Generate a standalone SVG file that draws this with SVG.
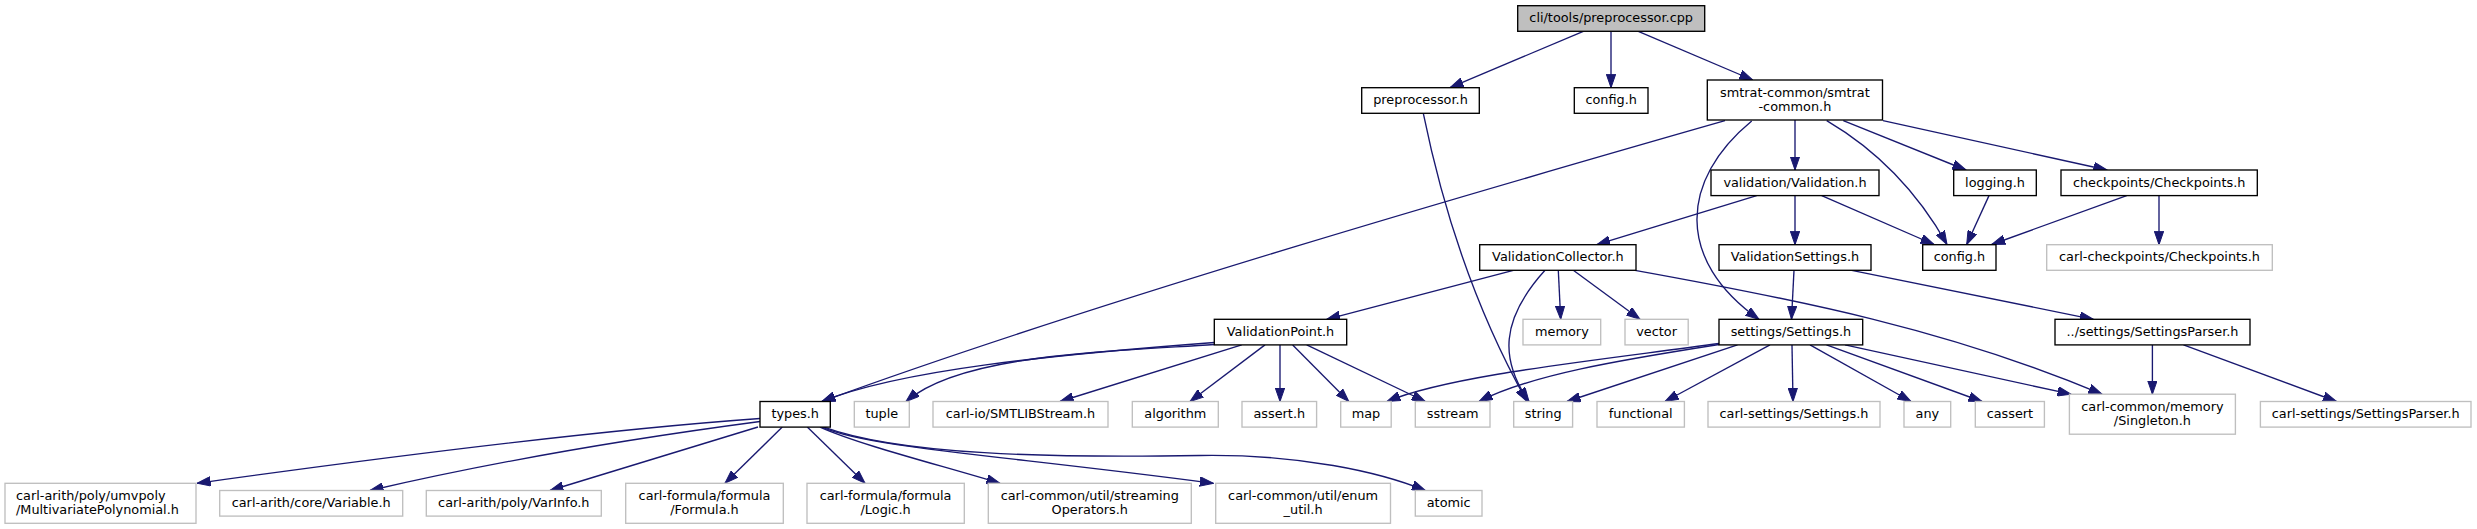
<svg xmlns="http://www.w3.org/2000/svg" width="2477" height="529" viewBox="0 0 2477 529">
<style>
.nd rect{fill:#ffffff;stroke:#000000;stroke-width:1.35}
.ext rect{fill:#ffffff;stroke:#bfbfbf;stroke-width:1.35}
.rt rect{fill:#bfbfbf;stroke:#000000;stroke-width:1.35}
text{font-family:"DejaVu Sans","Liberation Sans",sans-serif;font-size:12.85px;fill:#000000;text-anchor:middle}
text.l{text-anchor:start}
#edges path{fill:none;stroke:#191970;stroke-width:1.35;marker-end:url(#ah)}
</style>
<defs>
<marker id="ah" viewBox="0 0 14 10" refX="13.5" refY="5" markerWidth="14" markerHeight="10" markerUnits="userSpaceOnUse" orient="auto">
<path d="M0,0.3 L13.5,5 L0,9.7 z" fill="#191970" stroke="#191970" stroke-width="1"/>
</marker>
</defs>
<rect x="0" y="0" width="2477" height="529" fill="#ffffff"/>
<g id="edges">
<path d="M1583.3,31.3 L1450,87.7"/>
<path d="M1611,31.3 L1611,87.7"/>
<path d="M1638.3,31.3 L1752.7,80"/>
<path d="M1423.3,113.3 C1440,195 1470,300 1527,401.5"/>
<path d="M1725,120.7 C1500,185 1100,300 822,401.5"/>
<path d="M1795,120 L1795,170"/>
<path d="M1751.7,121 C1680,180 1675,260 1759,319.3"/>
<path d="M1826.7,120.7 C1885,155 1922,200 1947,244.5"/>
<path d="M1843.3,120.7 L1966,170"/>
<path d="M1883,120.7 L2107,170"/>
<path d="M1756.7,195.6 L1596.7,244.7"/>
<path d="M1795,195.6 L1795,244.7"/>
<path d="M1821.7,195.6 L1934,244.5"/>
<path d="M1989,195.6 L1966.7,244.5"/>
<path d="M2126.7,195.6 L1991.7,244.5"/>
<path d="M2159,195.6 L2159,244.7"/>
<path d="M1513.3,270.3 L1326.7,319.3"/>
<path d="M1545,270.3 C1500,320 1500,360 1529,401.5"/>
<path d="M1558.3,270.3 L1560.7,319.3"/>
<path d="M1573.3,270.3 L1640,319.3"/>
<path d="M1635,270.3 C1800,300 1950,330 2102,394.2"/>
<path d="M1794,270.3 L1791.5,319.3"/>
<path d="M1851.7,270.3 L2093.3,319.3"/>
<path d="M1214.3,342.5 C1050,355 900,370 822,401.5"/>
<path d="M1214.3,344.5 C1100,352 960,355 906,401.5"/>
<path d="M1241.7,344.9 L1060,401.5"/>
<path d="M1265,344.9 L1190,401.5"/>
<path d="M1280,344.9 L1280,401.5"/>
<path d="M1292.7,344.9 L1348.8,401.5"/>
<path d="M1306.7,344.9 L1425.3,401.5"/>
<path d="M1719,343.5 C1600,360 1450,375 1387,401.5"/>
<path d="M1719,344.5 C1620,360 1530,375 1479,401.5"/>
<path d="M1737.5,344.9 L1567,401.5"/>
<path d="M1770,344.9 L1665,401.5"/>
<path d="M1792,344.9 L1793,401.5"/>
<path d="M1810,344.9 L1911,401.5"/>
<path d="M1826.5,344.9 L1982,401.5"/>
<path d="M1845,344.9 L2071,394.2"/>
<path d="M2152.4,344.9 L2152.4,394.2"/>
<path d="M2183.5,344.9 L2336.5,401.5"/>
<path d="M760,418.5 C600,430 400,455 197,483.3"/>
<path d="M760,421.5 C620,440 480,465 370,490.5"/>
<path d="M758,427 L550,490.5"/>
<path d="M782.3,427.1 L725,483.3"/>
<path d="M807.3,427.1 L865,483.3"/>
<path d="M820,427.1 C860,445 940,465 1000,483.3"/>
<path d="M822,427.1 C870,448 1000,455 1213.3,483.3"/>
<path d="M824,427.1 C900,455 1050,458 1200,455.5 C1300,454 1380,472 1425.3,490.5"/>
</g>
<g id="n_root" class="rt"><rect x="1517.7" y="5.7" width="187" height="25.6"/><text x="1611.2" y="22.3">cli/tools/preprocessor.cpp</text></g>
<g id="n_preprocessor_h" class="nd"><rect x="1361.7" y="87.7" width="117.6" height="25.6"/><text x="1420.5" y="104.3">preprocessor.h</text></g>
<g id="n_config_h_a" class="nd"><rect x="1574.3" y="87.7" width="73.7" height="25.6"/><text x="1611.2" y="104.3">config.h</text></g>
<g id="n_smtrat_common" class="nd"><rect x="1707.3" y="80" width="175.2" height="40"/><text x="1794.9" y="96.6">smtrat-common/smtrat</text><text x="1794.9" y="111">-common.h</text></g>
<g id="n_validation_h" class="nd"><rect x="1711" y="170" width="168" height="25.6"/><text x="1795" y="186.6">validation/Validation.h</text></g>
<g id="n_logging_h" class="nd"><rect x="1953.7" y="170" width="82.6" height="25.6"/><text x="1995" y="186.6">logging.h</text></g>
<g id="n_checkpoints_h" class="nd"><rect x="2061" y="170" width="196.3" height="25.6"/><text x="2159.2" y="186.6">checkpoints/Checkpoints.h</text></g>
<g id="n_validationcollector_h" class="nd"><rect x="1479.7" y="244.7" width="156.3" height="25.6"/><text x="1557.9" y="261.3">ValidationCollector.h</text></g>
<g id="n_validationsettings_h" class="nd"><rect x="1719" y="244.7" width="152" height="25.6"/><text x="1795" y="261.3">ValidationSettings.h</text></g>
<g id="n_config_h_b" class="nd"><rect x="1922.7" y="244.7" width="73.3" height="25.6"/><text x="1959.4" y="261.3">config.h</text></g>
<g id="n_carl_checkpoints" class="ext"><rect x="2046.7" y="244.7" width="225.6" height="25.6"/><text x="2159.5" y="261.3">carl-checkpoints/Checkpoints.h</text></g>
<g id="n_validationpoint_h" class="nd"><rect x="1214.3" y="319.3" width="132.4" height="25.6"/><text x="1280.5" y="335.9">ValidationPoint.h</text></g>
<g id="n_memory" class="ext"><rect x="1523" y="319.3" width="77.7" height="25.6"/><text x="1561.9" y="335.9">memory</text></g>
<g id="n_vector" class="ext"><rect x="1625" y="319.3" width="63.2" height="25.6"/><text x="1656.6" y="335.9">vector</text></g>
<g id="n_settings_h" class="nd"><rect x="1719" y="319.3" width="143.7" height="25.6"/><text x="1790.9" y="335.9">settings/Settings.h</text></g>
<g id="n_settingsparser_h" class="nd"><rect x="2055" y="319.3" width="195" height="25.6"/><text x="2152.5" y="335.9">../settings/SettingsParser.h</text></g>
<g id="n_types_h" class="nd"><rect x="760" y="401.5" width="70.3" height="25.6"/><text x="795.2" y="418.1">types.h</text></g>
<g id="n_tuple" class="ext"><rect x="854.3" y="401.5" width="55" height="25.6"/><text x="881.8" y="418.1">tuple</text></g>
<g id="n_smtlibstream" class="ext"><rect x="933" y="401.5" width="175" height="25.6"/><text x="1020.5" y="418.1">carl-io/SMTLIBStream.h</text></g>
<g id="n_algorithm" class="ext"><rect x="1132.3" y="401.5" width="86" height="25.6"/><text x="1175.3" y="418.1">algorithm</text></g>
<g id="n_assert_h" class="ext"><rect x="1242" y="401.5" width="74.6" height="25.6"/><text x="1279.3" y="418.1">assert.h</text></g>
<g id="n_map" class="ext"><rect x="1340.7" y="401.5" width="50.5" height="25.6"/><text x="1366" y="418.1">map</text></g>
<g id="n_sstream" class="ext"><rect x="1415.3" y="401.5" width="74.7" height="25.6"/><text x="1452.7" y="418.1">sstream</text></g>
<g id="n_string" class="ext"><rect x="1513.7" y="401.5" width="58.9" height="25.6"/><text x="1543.2" y="418.1">string</text></g>
<g id="n_functional" class="ext"><rect x="1597" y="401.5" width="87.4" height="25.6"/><text x="1640.7" y="418.1">functional</text></g>
<g id="n_carl_settings_h" class="ext"><rect x="1708" y="401.5" width="172" height="25.6"/><text x="1794" y="418.1">carl-settings/Settings.h</text></g>
<g id="n_any" class="ext"><rect x="1904" y="401.5" width="46.7" height="25.6"/><text x="1927.4" y="418.1">any</text></g>
<g id="n_cassert" class="ext"><rect x="1975.3" y="401.5" width="69.1" height="25.6"/><text x="2009.9" y="418.1">cassert</text></g>
<g id="n_singleton_h" class="ext"><rect x="2069.4" y="394.2" width="166" height="40"/><text x="2152.4" y="410.8">carl-common/memory</text><text x="2152.4" y="425.2">/Singleton.h</text></g>
<g id="n_carl_settingsparser_h" class="ext"><rect x="2260.4" y="401.5" width="210.6" height="25.6"/><text x="2365.7" y="418.1">carl-settings/SettingsParser.h</text></g>
<g id="n_multivariatepolynomial_h" class="ext"><rect x="5" y="483.3" width="191" height="40"/><text class="l" x="16" y="499.9">carl-arith/poly/umvpoly</text><text class="l" x="16" y="514.3">/MultivariatePolynomial.h</text></g>
<g id="n_variable_h" class="ext"><rect x="219.7" y="490.5" width="183" height="25.6"/><text x="311.2" y="507.1">carl-arith/core/Variable.h</text></g>
<g id="n_varinfo_h" class="ext"><rect x="426.3" y="490.5" width="175" height="25.6"/><text x="513.8" y="507.1">carl-arith/poly/VarInfo.h</text></g>
<g id="n_formula_h" class="ext"><rect x="625.7" y="483.3" width="157.6" height="40"/><text x="704.5" y="499.9">carl-formula/formula</text><text x="704.5" y="514.3">/Formula.h</text></g>
<g id="n_logic_h" class="ext"><rect x="807" y="483.3" width="157.3" height="40"/><text x="885.6" y="499.9">carl-formula/formula</text><text x="885.6" y="514.3">/Logic.h</text></g>
<g id="n_streamingoperators_h" class="ext"><rect x="988.3" y="483.3" width="203" height="40"/><text x="1089.8" y="499.9">carl-common/util/streaming</text><text x="1089.8" y="514.3">Operators.h</text></g>
<g id="n_enum_util_h" class="ext"><rect x="1215.7" y="483.3" width="174.8" height="40"/><text x="1303.1" y="499.9">carl-common/util/enum</text><text x="1303.1" y="514.3">_util.h</text></g>
<g id="n_atomic" class="ext"><rect x="1415.3" y="490.5" width="66.7" height="25.6"/><text x="1448.7" y="507.1">atomic</text></g>
</svg>
